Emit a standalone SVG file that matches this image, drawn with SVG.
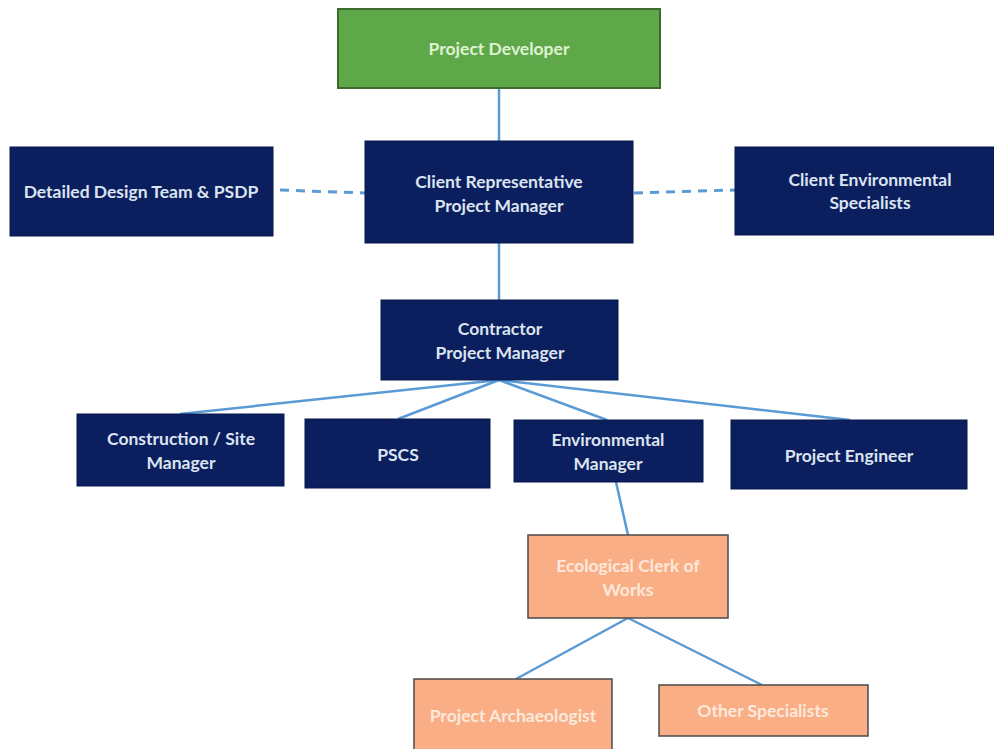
<svg xmlns="http://www.w3.org/2000/svg" width="994" height="749" viewBox="0 0 994 749">
<style>
.navy{fill:#0b1f5e;stroke:#08184a;stroke-width:1}
.green{fill:#5fa84a;stroke:#3d6b2e;stroke-width:2}
.orange{fill:#f9ae86;stroke:#4a4a4a;stroke-width:1.5}
text{font-family:Lato,"Liberation Sans",sans-serif;font-size:17.5px;font-weight:bold;text-anchor:middle}
.tn{fill:#dce4f0}
.tg{fill:#dff2d2}
.to{fill:#fde9dc}
.ln{stroke:#5b9bd5;stroke-width:2.5;fill:none}
.dash{stroke:#5b9bd5;stroke-width:3;fill:none;stroke-dasharray:9,7}
</style>
<rect width="994" height="749" fill="#ffffff"/>
<g id="connectors">
<line class="ln" x1="499" y1="88" x2="499" y2="141"/>
<line class="ln" x1="499" y1="243" x2="499" y2="300"/>
<line class="dash" x1="280" y1="190" x2="365" y2="193"/>
<line class="dash" x1="634" y1="193" x2="735" y2="190"/>
<line class="ln" x1="499" y1="380" x2="180" y2="414"/>
<line class="ln" x1="499" y1="380" x2="398" y2="419"/>
<line class="ln" x1="499" y1="380" x2="607" y2="420"/>
<line class="ln" x1="499" y1="380" x2="850" y2="420"/>
<line class="ln" x1="616" y1="482" x2="628" y2="535"/>
<line class="ln" x1="628" y1="618" x2="516" y2="679"/>
<line class="ln" x1="628" y1="618" x2="762" y2="685"/>
</g>
<g id="project-developer"><rect class="green" x="338" y="9" width="322" height="79"/><text class="tg" x="499" y="55">Project Developer</text></g>
<g id="client-rep"><rect class="navy" x="365" y="141" width="268" height="102"/><text class="tn" x="499" y="188">Client Representative</text><text class="tn" x="499" y="212">Project Manager</text></g>
<g id="design-team"><rect class="navy" x="10" y="147" width="263" height="89"/><text class="tn" x="141" y="198">Detailed Design Team &amp; PSDP</text></g>
<g id="client-env"><rect class="navy" x="735" y="147" width="259" height="88"/><text class="tn" x="870" y="186">Client Environmental</text><text class="tn" x="870" y="209">Specialists</text></g>
<g id="contractor-pm"><rect class="navy" x="381" y="300" width="237" height="80"/><text class="tn" x="500" y="335">Contractor</text><text class="tn" x="500" y="359">Project Manager</text></g>
<g id="construction-manager"><rect class="navy" x="77" y="414" width="207" height="72"/><text class="tn" x="181" y="445">Construction / Site</text><text class="tn" x="181" y="469">Manager</text></g>
<g id="pscs"><rect class="navy" x="305" y="419" width="185" height="69"/><text class="tn" x="398" y="461">PSCS</text></g>
<g id="env-manager"><rect class="navy" x="514" y="420" width="189" height="62"/><text class="tn" x="608" y="446">Environmental</text><text class="tn" x="608" y="470">Manager</text></g>
<g id="project-engineer"><rect class="navy" x="731" y="420" width="236" height="69"/><text class="tn" x="849" y="462">Project Engineer</text></g>
<g id="ecow"><rect class="orange" x="528" y="535" width="200" height="83"/><text class="to" x="628" y="572">Ecological Clerk of</text><text class="to" x="628" y="596">Works</text></g>
<g id="archaeologist"><rect class="orange" x="414" y="679" width="198" height="75"/><text class="to" x="513" y="722">Project Archaeologist</text></g>
<g id="other-specialists"><rect class="orange" x="659" y="685" width="209" height="51"/><text class="to" x="763" y="717">Other Specialists</text></g>
</svg>
